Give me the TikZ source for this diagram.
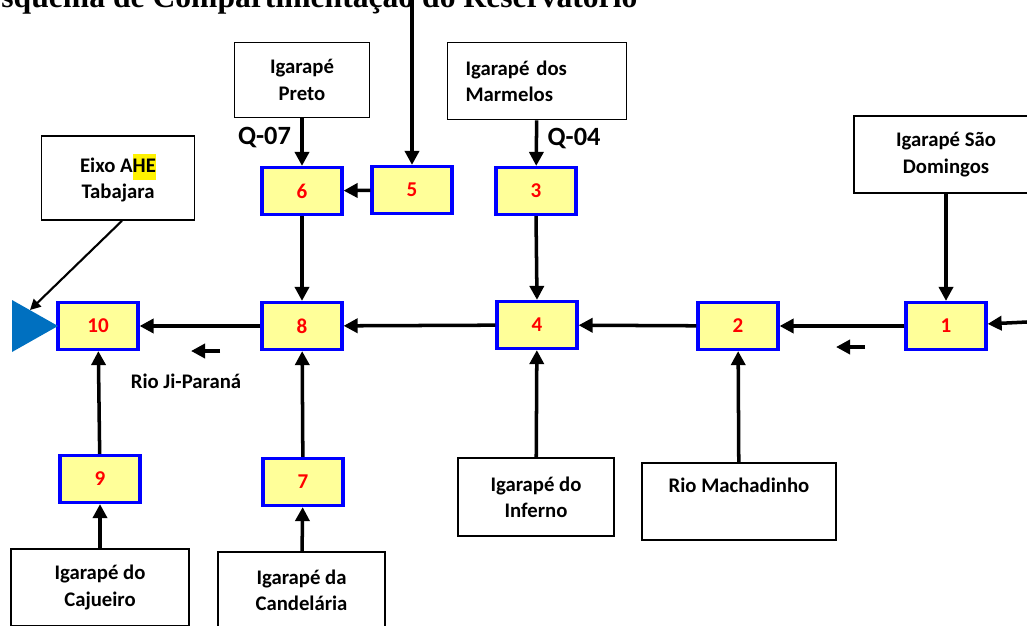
\documentclass[tikz,border=0pt]{standalone}
\usepackage{fontspec}
\setmainfont{Carlito}
\newfontfamily\titlefont{Liberation Serif}
\usepackage{xcolor}
\usetikzlibrary{arrows.meta}
\definecolor{boxyellow}{RGB}{255,255,153}
\definecolor{damblue}{RGB}{0,112,192}
\newcommand{\hlmark}[1]{{\setlength{\fboxsep}{0pt}\colorbox{yellow}{\strut #1}}}

\begin{document}
\begin{tikzpicture}[x=0.02cm, y=-0.02cm,
                        lbl/.style={font=\fontsize{11.8}{15}\selectfont\bfseries, align=center},
                        src/.style={lbl, draw=black, line width=0.9pt, fill=white, inner sep=0pt},
                        reach/.style={draw=blue, fill=boxyellow, line width=1.8pt, text=red,
                                font=\fontsize{12}{15}\selectfont\bfseries,
                                minimum width=1.6cm, minimum height=0.94cm, inner sep=0pt},
                        flow/.style={-{Triangle[length=8pt,width=8pt]}, line width=2pt},
                        thinflow/.style={-{Triangle[length=6pt,width=6pt]}, line width=1.2pt},
                        qlbl/.style={font=\fontsize{15}{18}\selectfont\bfseries}]
                        \useasboundingbox (0,0) rectangle (1027,625);

                        \node[anchor=base west, inner sep=0pt, font=\titlefont\fontsize{18}{22}\selectfont\bfseries] (title) at (-20,8) {Esquema de Compartimentação do Reservatório};

                        \node[src, minimum width=2.7cm, minimum height=1.5cm] (preto) at (302,80) {Igarapé\\Preto};
                        \node[src, minimum width=3.58cm, minimum height=1.54cm, text width=2.86cm, align=left] (marm) at (537,81) {Igarapé dos\\Marmelos};
                        \node[src, minimum width=3.06cm, minimum height=1.68cm] (eixo) at (118,178) {Eixo A\hlmark{HE}\\Tabajara};
                        \node[src, minimum width=3.68cm, minimum height=1.54cm] (dom) at (946,154.5) {Igarapé São\\Domingos};
                        \node[src, minimum width=3.12cm, minimum height=1.56cm] (inf) at (536,497) {Igarapé do\\Inferno};
                        \node[src, minimum width=3.88cm, minimum height=1.54cm, text height=0.25cm, text depth=0.61cm] (mach) at (739,501.5) {Rio Machadinho};
                        \node[src, minimum width=3.56cm, minimum height=1.54cm] (caju) at (100,587.5) {Igarapé do\\Cajueiro};
                        \node[src, minimum width=3.34cm, minimum height=1.54cm] (cand) at (301.5,590.5) {Igarapé da\\Candelária};

                        \node[reach] (r10) at (98,326) {10};
                        \node[reach] (r8) at (302,326) {8};
                        \node[reach] (r4) at (537,325) {4};
                        \node[reach] (r2) at (738,326) {2};
                        \node[reach] (r1) at (946,326) {1};
                        \node[reach] (r6) at (302,191) {6};
                        \node[reach] (r5) at (412,190) {5};
                        \node[reach] (r3) at (536,191) {3};
                        \node[reach] (r9) at (100,479) {9};
                        \node[reach] (r7) at (303,482) {7};

                        \node[lbl] (ji) at (186,381) {Rio Ji-Paraná};

                        \fill[damblue] (12,300) -- (58,326) -- (12,352) -- cycle;
                        \coordinate (damtop) at (30,310);
                        \coordinate (upin) at (412,0);
                        \coordinate (rightin) at (1027,322);
                        \coordinate (jia) at (220,351);
                        \coordinate (jib) at (191,351);
                        \coordinate (jic) at (865,347);
                        \coordinate (jid) at (836,347);

                        \draw
                        (upin) edge[flow] (r5)
                        (preto) edge[flow] node[qlbl, left, pos=0.4, xshift=-2pt]{Q-07} (r6)
                        (marm) edge[flow] node[qlbl, right, pos=0.4, xshift=2pt]{Q-04} (r3)
                        (r5) edge[flow] (r6)
                        (r6) edge[flow] (r8)
                        (r3.south) edge[flow] (r4.north)
                        (dom) edge[flow] (r1)
                        (rightin) edge[flow] (r1)
                        (r1) edge[flow] (r2)
                        (r2) edge[flow] (r4)
                        (r4) edge[flow] (r8)
                        (r8) edge[flow] (r10)
                        (inf) edge[flow] (r4)
                        (mach) edge[flow] (r2)
                        (caju) edge[flow] (r9)
                        (r9) edge[flow] (r10)
                        (cand) edge[flow] (r7)
                        (r7) edge[flow] (r8)
                        (jia) edge[flow] (jib)
                        (jic) edge[flow] (jid)
                        ([xshift=0.08cm]eixo.south) edge[thinflow] (damtop);
                    \end{tikzpicture}
\end{document}
